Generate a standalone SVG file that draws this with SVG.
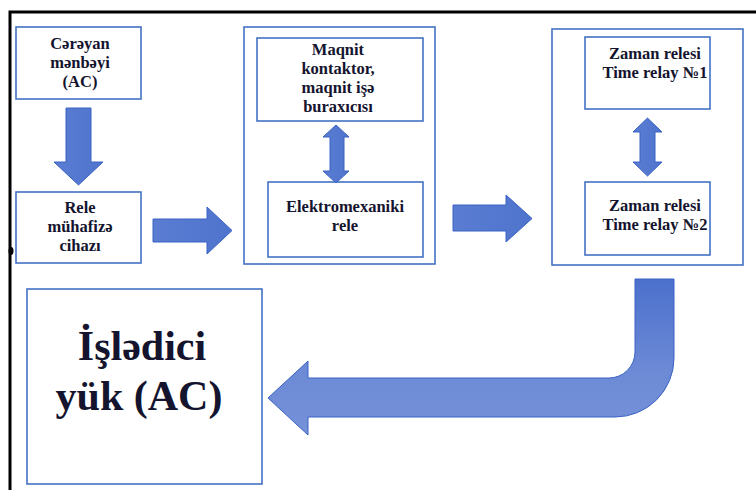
<svg xmlns="http://www.w3.org/2000/svg" width="756" height="490" viewBox="0 0 756 490">
<defs>
<linearGradient id="gh" x1="0" y1="0" x2="1" y2="0">
<stop offset="0" stop-color="#5a7dd2"/>
<stop offset="1" stop-color="#4f74cd"/>
</linearGradient>
<linearGradient id="gb" x1="0" y1="0" x2="0" y2="1">
<stop offset="0" stop-color="#4b70cc"/>
<stop offset="0.6" stop-color="#6d8ad6"/>
<stop offset="1" stop-color="#7591d8"/>
</linearGradient>
<style>
.box{fill:#fff;stroke:#4472c4;stroke-width:1.6}
.arr{stroke:#3a62c4;stroke-width:1}
.t{font-family:"Liberation Serif","DejaVu Serif","Times New Roman",serif;font-weight:bold;font-size:16.5px;fill:#14142e;text-anchor:middle}
.big{font-size:42px}
</style>
</defs>
<rect width="756" height="490" fill="#fff"/>
<rect x="10" y="12" width="800" height="520" fill="none" stroke="#000" stroke-width="3"/>
<ellipse cx="11" cy="251" rx="2.5" ry="4" fill="#000"/>

<g id="n1">
<rect class="box" x="16" y="27" width="125" height="72"/>
<text class="t" x="80" y="49">Cərəyan</text>
<text class="t" x="80" y="68">mənbəyi</text>
<text class="t" x="80" y="87">(AC)</text>
</g>
<g id="n2">
<rect class="box" x="16" y="192" width="125" height="71"/>
<text class="t" x="80" y="213">Rele</text>
<text class="t" x="80" y="232">mühafizə</text>
<text class="t" x="80" y="251">cihazı</text>
</g>
<g id="g_mid">
<rect class="box" x="244" y="27" width="191" height="237"/>
</g>
<g id="n3">
<rect class="box" x="257" y="38" width="166" height="83"/>
<text class="t" x="338" y="55">Maqnit</text>
<text class="t" x="338" y="74">kontaktor,</text>
<text class="t" x="338" y="93">maqnit işə</text>
<text class="t" x="338" y="112">buraxıcısı</text>
</g>
<g id="n4">
<rect class="box" x="268" y="182" width="155" height="75"/>
<text class="t" x="345" y="212">Elektromexaniki</text>
<text class="t" x="345" y="231">rele</text>
</g>
<g id="g_right">
<rect class="box" x="552" y="29" width="191" height="236"/>
</g>
<g id="n5">
<rect class="box" x="585" y="37" width="125" height="72"/>
<text class="t" x="655" y="59">Zaman relesi</text>
<text class="t" x="655" y="78">Time relay №1</text>
</g>
<g id="n6">
<rect class="box" x="585" y="182" width="125" height="73"/>
<text class="t" x="655" y="211">Zaman relesi</text>
<text class="t" x="655" y="230">Time relay №2</text>
</g>
<g id="n7">
<rect class="box" x="27" y="289" width="235" height="195"/>
<text class="t big" x="142" y="360">İşlədici</text>
<text class="t big" x="139" y="410">yük (AC)</text>
</g>

<g id="connectors">
<path class="arr" fill="url(#gh)" d="M66,108 H91 V162 H103 L78.5,185 L54,162 H66 Z"/>
<path class="arr" fill="url(#gh)" d="M153,219 H207 V207 L232,230.5 L207,254 V242 H153 Z"/>
<path class="arr" fill="url(#gh)" d="M453,205 H506 V195 L532,218.5 L506,242 V231 H453 Z"/>
<path class="arr" fill="url(#gh)" d="M336,125 L349,137 H344 V171 H349 L336,183 L323,171 H330 V137 H323 Z"/>
<path class="arr" fill="url(#gh)" d="M647.5,118 L662,132 H655 V162 H662 L647.5,176 L633,162 H640 V132 H633 Z"/>
<path class="arr" fill="url(#gb)" d="M635,279 H674 V358 A59,59 0 0 1 615,417 H308 V435 L268,398 L308,361 V378 H609 A26,26 0 0 0 635,352 Z"/>
</g>
</svg>
